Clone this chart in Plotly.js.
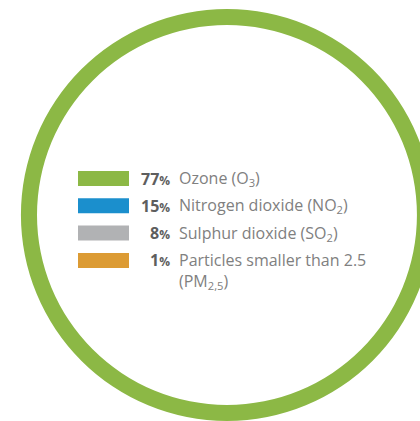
<!DOCTYPE html>
<html><head><meta charset="utf-8">
<script src="https://cdn.plot.ly/plotly-3.0.1.min.js"></script>
<style>html,body{margin:0;padding:0;overflow:hidden;background:#fff}#chart{width:433px;height:421px}</style>
</head><body><div id="chart"></div>
<script>
// Data
const categories = ['Ozone (O<sub>3</sub>)', 'Nitrogen dioxide (NO<sub>2</sub>)', 'Sulphur dioxide (SO<sub>2</sub>)', 'Particles smaller than 2.5<br>(PM<sub>2,5</sub>)'];
const shares = [77, 15, 8, 1];
const colors = ['#8cb845', '#1b8fcd', '#b1b2b4', '#dc9b34'];

// Geometry (pixels in the page)
const L = 21, T = 9, S = 412;
const px = x => (x - L) / S;
const py = y => 1 - (y - T) / S;
const rowTop = 178.5, rowStep = 27.3, lineH = 20.5;

const shapes = [], annotations = [];
categories.forEach((c, i) => {
  const cy = rowTop + i * rowStep;
  shapes.push({type: 'rect', xref: 'paper', yref: 'paper', x0: px(78), x1: px(129), y0: py(cy - 7.5), y1: py(cy + 7.5), fillcolor: colors[i], line: {width: 0}});
  annotations.push({xref: 'paper', yref: 'paper', x: px(172), y: py(cy), xanchor: 'right', yanchor: 'middle', showarrow: false,
    text: '<b>' + shares[i] + '<span style="font-size:12px">%</span></b>', font: {family: 'Open Sans', size: 16, color: '#5e5e5e'}});
  const lines = c.split('<br>').length;
  annotations.push({xref: 'paper', yref: 'paper', x: px(177), y: py(cy + (lines - 1) * lineH / 2), xanchor: 'left', yanchor: 'middle', align: 'left', showarrow: false,
    text: c, font: {family: 'Open Sans', size: 16, color: '#808080'}});
});

const trace = {type: 'pie', values: [shares[0]], labels: [categories[0]], hole: 0.922, sort: false,
  marker: {colors: [colors[0]], line: {width: 0}}, textinfo: 'none', hoverinfo: 'none', showlegend: false,
  domain: {x: [0, 1], y: [0, 1]}};

Plotly.newPlot('chart', [trace], {
  width: 433, height: 421, margin: {l: L, r: 0, t: T, b: 0},
  paper_bgcolor: '#fff', plot_bgcolor: '#fff', showlegend: false,
  shapes: shapes, annotations: annotations
}, {displayModeBar: false});
</script></body></html>
